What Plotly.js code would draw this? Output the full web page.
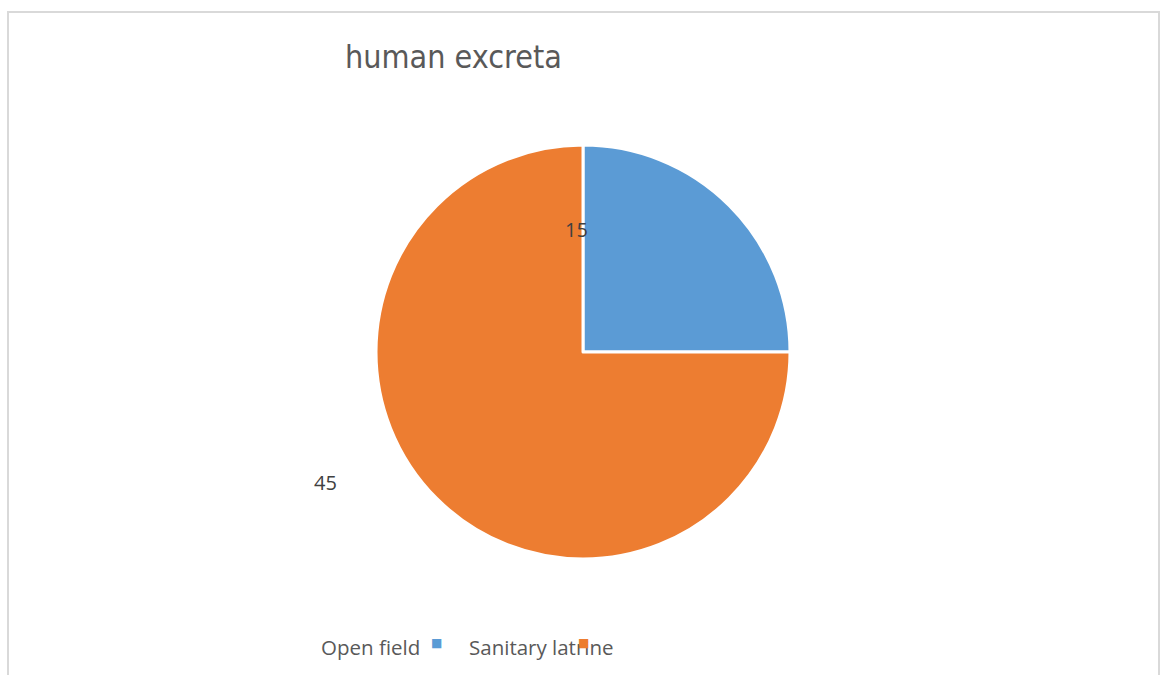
<!DOCTYPE html>
<html>
<head>
<meta charset="utf-8">
<script src="https://cdn.plot.ly/plotly-3.0.1.min.js"></script>
<style>html,body{margin:0;padding:0;background:#fff;}#chart{width:1170px;height:675px;}</style>
</head>
<body>
<div id="chart"></div>
<script>
const labels = ["Open field", "Sanitary latrine"];
const values = [15, 45];
const colors = ["#5B9BD5", "#ED7D31"];
const chartTitle = "human excreta";

const W = 1170, H = 675;
const px = x => x / W;
const py = y => 1 - y / H;

// data label positions (as in reference)
const labelPos = [[576, 229], [325, 483]];
// legend layout: text then marker (as in reference)
const legendTextX = [319, 467];
const legendMarkX = [436, 583];
const legendY = 647;

const annotations = [];
values.forEach((v, i) => {
  annotations.push({
    xref: 'paper', yref: 'paper', x: px(labelPos[i][0]), y: py(labelPos[i][1]),
    text: String(v), showarrow: false, xanchor: 'center', yanchor: 'middle',
    font: {family: 'Open Sans, Liberation Sans, sans-serif', size: 20, color: '#404040'}
  });
});
labels.forEach((l, i) => {
  annotations.push({
    xref: 'paper', yref: 'paper', x: px(legendTextX[i]), y: py(legendY),
    text: l, showarrow: false, xanchor: 'left', yanchor: 'middle',
    font: {family: 'Open Sans, Liberation Sans, sans-serif', size: 20.5, color: '#595959'}
  });
});
labels.forEach((l, i) => {
  annotations.push({
    xref: 'paper', yref: 'paper', x: px(legendMarkX[i]), y: py(legendY - 4),
    text: '■', showarrow: false, xanchor: 'center', yanchor: 'middle',
    font: {family: 'DejaVu Sans, sans-serif', size: 12, color: colors[i]}
  });
});

const data = [{
  type: 'pie',
  labels: labels,
  values: values,
  sort: false,
  direction: 'clockwise',
  rotation: 0,
  marker: {colors: colors, line: {color: '#ffffff', width: 3}},
  textinfo: 'none',
  hoverinfo: 'label+value',
  showlegend: false,
  domain: {x: [px(376), px(790)], y: [py(559), py(145)]}
}];

const layout = {
  width: W, height: H,
  margin: {l: 0, r: 0, t: 0, b: 0},
  paper_bgcolor: '#ffffff',
  showlegend: false,
  title: {
    text: chartTitle,
    x: px(345), xanchor: 'left', xref: 'paper',
    y: py(57), yanchor: 'middle', yref: 'paper',
    font: {family: 'Liberation Sans Narrow, DejaVu Sans Condensed, Open Sans, sans-serif', size: 32, color: '#595959'}
  },
  annotations: annotations,
  shapes: [{
    type: 'rect', xref: 'paper', yref: 'paper',
    x0: px(8), x1: px(1159), y0: -0.1, y1: py(12),
    line: {color: '#d9d9d9', width: 2}, fillcolor: 'rgba(0,0,0,0)', layer: 'below'
  }]
};

Plotly.newPlot('chart', data, layout, {displayModeBar: false, staticPlot: true});
</script>
</body>
</html>
